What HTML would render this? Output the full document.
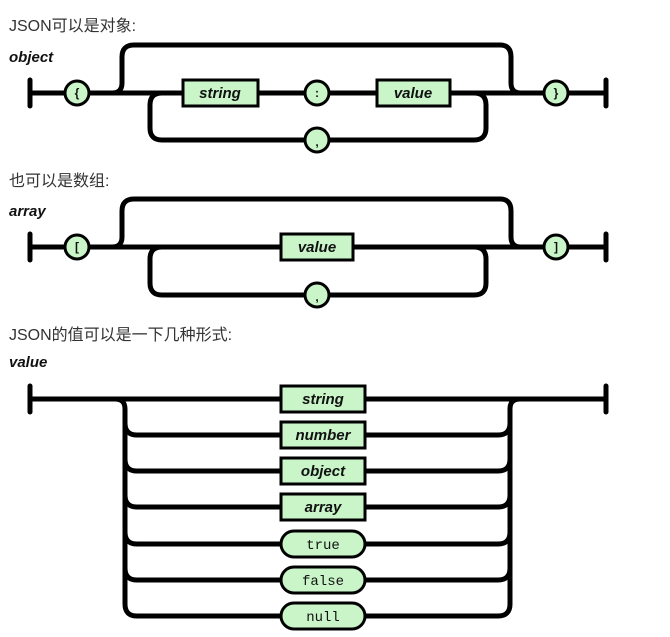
<!DOCTYPE html>
<html><head><meta charset="utf-8"><style>
html,body{margin:0;padding:0;background:#fff;}
svg{display:block;}
.cn{font-family:"Liberation Sans","Noto Sans CJK SC",sans-serif;font-size:16px;fill:#333;}
.lb{font-family:"Liberation Sans",sans-serif;font-size:15px;font-weight:bold;font-style:italic;fill:#111;}
.bx{font-family:"Liberation Sans",sans-serif;font-size:15px;font-weight:bold;font-style:italic;fill:#111;text-anchor:middle;}
.mn{font-family:"Liberation Mono",monospace;font-size:14px;fill:#111;text-anchor:middle;}
.ch{font-family:"Liberation Sans",sans-serif;font-size:12px;font-weight:bold;fill:#111;text-anchor:middle;}
</style></head><body>
<svg width="670" height="637" viewBox="0 0 670 637" xmlns="http://www.w3.org/2000/svg">
<g fill="none" stroke="#000" stroke-width="5" stroke-linecap="round" stroke-linejoin="round">
<!-- object -->
<line x1="30" y1="80" x2="30" y2="106"/>
<line x1="30" y1="93" x2="606" y2="93"/>
<line x1="606" y1="80" x2="606" y2="106"/>
<path d="M112 93 Q122 93 122 83 L122 57 Q122 45 134 45 L500 45 Q511 45 511 57 L511 83 Q511 93 521 93"/>
<path d="M162 93 Q150 93 150 105 L150 128 Q150 140 162 140 L474 140 Q486 140 486 128 L486 105 Q486 93 474 93"/>
<!-- array -->
<line x1="30" y1="234" x2="30" y2="260"/>
<line x1="30" y1="247" x2="606" y2="247"/>
<line x1="606" y1="234" x2="606" y2="260"/>
<path d="M112 247 Q122 247 122 237 L122 211 Q122 199 134 199 L500 199 Q511 199 511 211 L511 237 Q511 247 521 247"/>
<path d="M162 247 Q150 247 150 259 L150 283 Q150 295 162 295 L474 295 Q486 295 486 283 L486 259 Q486 247 474 247"/>
<!-- value -->
<line x1="30" y1="386" x2="30" y2="412"/>
<line x1="30" y1="399" x2="606" y2="399"/>
<line x1="606" y1="386" x2="606" y2="412"/>
<path d="M115 399 Q125 399 125 409 L125 604 Q125 616 137 616 L498 616 Q510 616 510 604 L510 409 Q510 399 520 399"/>
<path d="M125 423 Q125 435 137 435 L498 435 Q510 435 510 423"/>
<path d="M125 459 Q125 471 137 471 L498 471 Q510 471 510 459"/>
<path d="M125 495 Q125 507 137 507 L498 507 Q510 507 510 495"/>
<path d="M125 532 Q125 544 137 544 L498 544 Q510 544 510 532"/>
<path d="M125 568 Q125 580 137 580 L498 580 Q510 580 510 568"/>
</g>
<g fill="#c9f5c9" stroke="#000" stroke-width="3">
<circle cx="77" cy="93" r="12"/><circle cx="317" cy="93" r="12"/><circle cx="317" cy="140" r="12"/><circle cx="556" cy="93" r="12"/>
<rect x="183" y="80" width="75" height="26"/><rect x="377" y="80" width="73" height="26"/>
<circle cx="77" cy="247" r="12"/><circle cx="317" cy="295" r="12"/><circle cx="556" cy="247" r="12"/>
<rect x="281" y="234" width="72" height="26"/>
<rect x="281" y="386" width="84" height="26"/>
<rect x="281" y="422" width="84" height="26"/>
<rect x="281" y="458" width="84" height="26"/>
<rect x="281" y="494" width="84" height="26"/>
<rect x="281" y="531" width="84" height="26" rx="13"/>
<rect x="281" y="567" width="84" height="26" rx="13"/>
<rect x="281" y="603" width="84" height="26" rx="13"/>
</g>
<text class="cn" x="9" y="31">JSON可以是对象:</text>
<text class="lb" x="9" y="62">object</text>
<text class="cn" x="9" y="186">也可以是数组:</text>
<text class="lb" x="9" y="216">array</text>
<text class="cn" x="9" y="340">JSON的值可以是一下几种形式:</text>
<text class="lb" x="9" y="367">value</text>
<text class="ch" x="77" y="97">{</text><text class="ch" x="317" y="97">:</text><text class="ch" x="317" y="146">,</text><text class="ch" x="556" y="97">}</text>
<text class="ch" x="77" y="251">[</text><text class="ch" x="317" y="301">,</text><text class="ch" x="556" y="251">]</text>
<text class="bx" x="220" y="98">string</text><text class="bx" x="413" y="98">value</text>
<text class="bx" x="317" y="252">value</text>
<text class="bx" x="323" y="404">string</text>
<text class="bx" x="323" y="440">number</text>
<text class="bx" x="323" y="476">object</text>
<text class="bx" x="323" y="512">array</text>
<text class="mn" x="323" y="549">true</text>
<text class="mn" x="323" y="585">false</text>
<text class="mn" x="323" y="621">null</text>
</svg>
</body></html>
